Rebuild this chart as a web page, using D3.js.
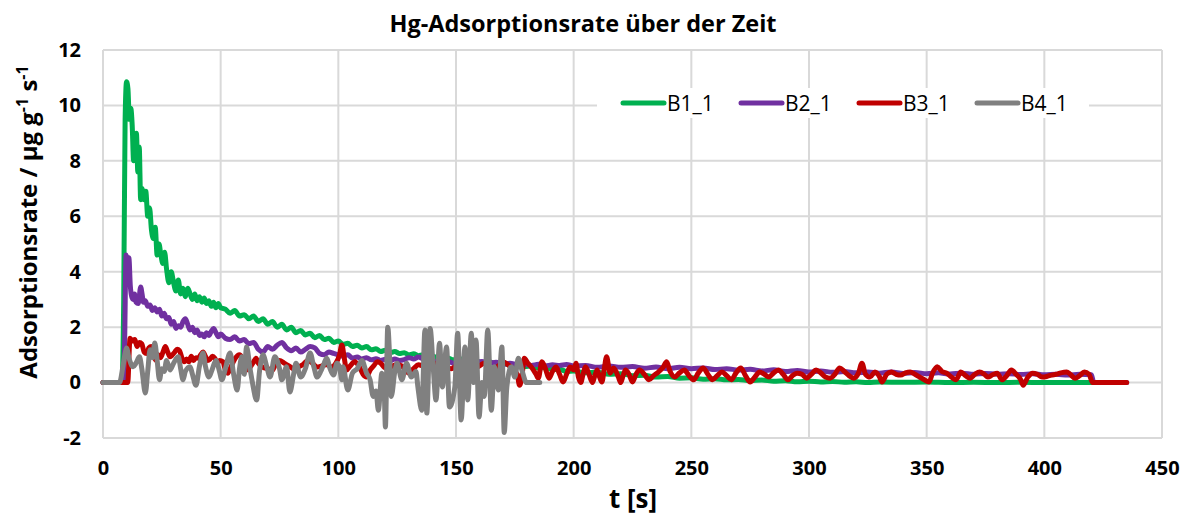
<!DOCTYPE html>
<html><head><meta charset="utf-8">
<script src="https://cdn.jsdelivr.net/npm/d3@7"></script>
<style>
html,body{margin:0;padding:0;background:#fff;}
svg text{font-family:"Open Sans",sans-serif;fill:#000;}
</style></head>
<body>
<svg id="chart" width="1193" height="516"></svg>
<script>
const title = "Hg-Adsorptionsrate über der Zeit";
const xTicks = [0,50,100,150,200,250,300,350,400,450];
const yTicks = [-2,0,2,4,6,8,10,12];
const seriesNames = ["B1_1","B2_1","B3_1","B4_1"];
const seriesColors = ["#00b050","#7030a0","#c00000","#808080"];

const b1T = [0,8,8.8,9.4,10,10.6,11.2,11.8,12.4,13,13.6,14.2,14.8,15.4,16,16.6,17.4,18.2,19,19.8,20.6,21.4,22.2,23,23.8,24.6,25.4,26.2,27,28,29,30,31,32,33,34,35,36,37,38,39,40,41,42,43,44,45,46,47,48,49,50,52,54,56,58,60,62,64,66,68,70,72,74,76,78,80,82,84,86,88,90,92,94,96,98,100,102,104,106,108,110,112,114,116,118,120,122,124,126,128,130,132,134,136,138,140,143,146,149,152,155,158,161,164,167,170,173,176,179,182,185,188,191,194,197,200,205,210,215,220,225,230,235,240,245,250,255,260,265,270,275,280,285,290,295,300,305,310,315,320,325,330,340,350,360,370,380,390,400,410,420,421,435];
const b1V = [0,0,3,9.5,10.85,10.6,9.5,9.9,9.3,8.0,8.4,9.0,7.6,8.5,6.6,7.0,6.6,6.9,6.0,6.3,5.5,5.2,5.6,4.6,5.0,4.6,4.3,4.7,4.1,3.6,4.0,3.6,3.3,3.7,3.2,3.4,3.1,3.4,3.2,3.0,3.2,2.95,3.1,2.9,3.05,2.85,2.95,2.75,2.9,2.7,2.85,2.7,2.65,2.5,2.6,2.4,2.45,2.3,2.4,2.2,2.3,2.1,2.2,2.0,2.1,1.9,2.0,1.8,1.88,1.72,1.78,1.62,1.7,1.55,1.6,1.45,1.5,1.38,1.42,1.3,1.35,1.25,1.3,1.18,1.22,1.12,1.17,1.08,1.12,1.05,1.08,1.0,1.04,0.97,1.0,0.92,0.95,0.88,0.9,0.82,0.85,0.77,0.8,0.72,0.75,0.67,0.7,0.62,0.65,0.57,0.6,0.52,0.55,0.47,0.48,0.4,0.42,0.35,0.37,0.3,0.32,0.25,0.26,0.2,0.22,0.16,0.17,0.12,0.14,0.1,0.11,0.07,0.09,0.05,0.07,0.03,0.05,0.02,0.04,0.01,0.03,0,0.02,0.01,0.02,0,0.01,0,0.01,0,0,0,0];

const b2T = [0,8.6,9.2,9.8,10.4,11,11.6,12.2,12.8,13.4,14,15,16,16.6,17.2,18,19,20,21,22,23,24,25,26,27,28,29,30,31,32,33,34,35,36,37,38,39,40,41,42,43,44,45,46,47,48,49,50,52,54,56,58,60,62,64,66,68,70,72,74,76,78,80,82,84,86,88,90,92,94,96,98,100,102,104,106,108,110,112,114,116,118,120,122,124,126,128,130,132,134,136,138,140,143,146,149,152,155,158,161,164,167,170,173,176,179,182,185,188,191,194,197,200,205,210,215,220,225,230,235,240,245,250,255,260,265,270,275,280,285,290,295,300,305,310,315,320,325,330,335,340,345,350,355,360,365,370,375,380,385,390,395,400,405,410,415,420,421,435];
const b2V = [0,0,1.5,4.6,4.4,4.5,3.5,3.1,3.0,3.2,2.9,2.85,3.45,3.2,2.9,2.95,2.75,2.8,2.6,2.7,2.55,2.65,2.4,2.5,2.3,2.35,2.1,2.2,1.95,2.05,2.0,2.2,2.3,2.1,1.9,2.0,1.8,1.9,1.7,1.75,1.65,1.8,1.7,1.85,1.95,1.8,1.65,1.75,1.6,1.55,1.65,1.5,1.55,1.4,1.45,1.2,1.1,1.3,1.2,1.35,1.45,1.25,1.15,1.25,1.1,1.2,1.3,1.25,1.05,1.0,1.1,1.05,1.0,0.95,1.0,0.88,0.92,0.85,0.9,0.82,0.86,0.8,0.84,0.78,0.85,0.8,0.83,0.9,0.85,0.92,0.85,0.8,0.78,0.72,0.78,0.7,0.75,0.68,0.72,0.76,0.7,0.73,0.66,0.7,0.65,0.68,0.62,0.66,0.6,0.64,0.62,0.65,0.6,0.62,0.55,0.6,0.55,0.58,0.52,0.56,0.5,0.55,0.5,0.53,0.47,0.5,0.45,0.48,0.42,0.46,0.4,0.44,0.38,0.42,0.37,0.4,0.35,0.38,0.34,0.38,0.33,0.36,0.32,0.35,0.31,0.34,0.3,0.33,0.3,0.32,0.29,0.32,0.28,0.3,0.27,0.3,0.28,0,0];

const b3T = [0,10.5,11.5,12.5,13.5,14.5,15.5,16.5,17.5,18.5,19.5,20.5,21.5,22.5,23.5,24.5,25.5,26.5,27.5,28.5,29.5,30.5,31.5,32.5,33.5,34.5,35.5,36.5,37.5,38.5,39.5,40.5,41.5,42.5,43.5,44.5,45.5,46.5,47.5,48.5,49.5,51,52,53,54,56,58,60,61,62,64,65,66,68,70,72,73,75,77,79,81,83,85,87,89,91,93,95,97,99,100.5,101.5,102.5,103.5,105,107,109,110.5,112,113.5,115,116.5,118,119.5,121,123,125,127,128.5,130,132,134,136,138,140,142,144,146,148,150,152,154,156,158,160,162,164,166,168,170,172,174,176,177,178,179,180.5,182,184,185,186.5,188,189.5,191,192.5,194,195.5,197,198.5,200,201,202,203,204,205,206.5,208,209,210,211,212,213,214,215.5,217,219,220,221,222,223.5,225,226.5,228,230,232,234,236,238,239.5,241,243,245,247,249,251,253,255,257,259,261,263,265,267,269,271,273,275,277,279,281,283,285,287,289,291,293,295,297,299,301,303,305,307,309,311,313,315,317,319,321,322.5,324,326,328,330,331,333,335,337,339,341,343,345,347,349,351,352.5,354.5,356.5,358.5,360.5,362.5,364.5,366.5,368.5,370.5,372.5,374.5,376,378,380,382,384,386,388,390,391,393,395,397,399,401,403,405,407,409.5,411,413,415,417,419,420.5,435];
const b3V = [0,0,1.6,1.5,1.55,1.3,1.45,1.4,1.1,1.05,1.25,1.3,1.0,0.8,1.0,0.9,1.1,1.3,1.1,0.93,1.0,1.1,1.2,1.15,0.9,0.75,0.85,0.75,0.95,0.8,0.9,0.88,1.0,1.1,0.95,0.8,0.85,0.95,0.88,0.7,0.8,0.75,0.45,0.34,0.5,0.85,1.0,0.7,0.45,0.5,0.75,0.88,0.7,0.55,0.5,0.45,0.6,0.8,0.7,0.6,0.5,0.56,0.65,0.8,0.7,0.56,0.6,0.65,0.56,0.7,1.0,1.36,0.9,0.45,0.6,0.75,0.55,0.3,0.2,0.45,0.6,0.75,0.7,0.55,0.5,0.6,0.64,0.6,0.45,0.34,0.5,0.64,0.6,0.56,0.6,0.7,0.65,0.55,0.5,0.6,0.7,0.55,0.4,0.5,0.6,0.7,0.55,0.45,0.6,0.75,0.65,0.5,0.3,-0.1,0.2,0.88,0.7,0.56,0.3,0.16,0.75,0.5,0.16,0.4,0.56,0.3,0.02,0.3,0.56,0.45,0.7,0.2,0.0,0.3,0.57,0.3,0.0,0.25,0.45,0.2,0.02,0.5,0.93,0.34,0.53,0.2,0.0,0.25,0.45,0.3,0.02,0.3,0.45,0.3,0.1,0.25,0.38,0.55,0.75,0.4,0.2,0.35,0.45,0.25,0.1,0.35,0.53,0.3,0.1,0.25,0.38,0.25,0.1,0.35,0.53,0.25,0.02,0.2,0.38,0.3,0.2,0.35,0.45,0.3,0.1,0.25,0.34,0.3,0.16,0.3,0.45,0.35,0.2,0.16,0.3,0.53,0.4,0.25,0.16,0.34,0.7,0.3,0.2,0.38,0.2,0.02,0.3,0.38,0.3,0.27,0.35,0.38,0.3,0.2,0.1,0.02,0.34,0.57,0.4,0.34,0.2,0.1,0.38,0.25,0.16,0.3,0.38,0.3,0.2,0.28,0.34,0.1,0.25,0.45,0.3,0.1,-0.1,0.2,0.34,0.3,0.2,0.22,0.27,0.3,0.35,0.38,0.3,0.16,0.25,0.38,0.3,0.0,0.0];

const b4T = [0,7,8.5,9.5,10,11,12.8,14,15.5,16.5,18,19,20,21,22,23,24,25,26,27,28.5,30,32,33,34,35,37,38,39.5,41,42.5,43.5,45,46.5,48,49.5,50.5,52,54,55.5,57,58,59,60,61,62.5,63.5,65.3,66.5,68,69.5,71,73,75,76,78,79.4,81,82,84,86,88,89.5,91,92.5,94,95,96.5,98,99.4,100.5,101.5,102,104,106,108,110,112,113.5,114.8,116,117,118.5,119.5,120,121,122,122.5,124,125,127,129,131,133,133.8,135.5,136.8,137.6,139,140.3,141.5,143,144.2,146,147.2,149.5,150.7,152.2,153.8,155,156.5,157.5,158.5,159.8,161,162,163.5,165,166.3,168,169.5,170.5,171.6,173.5,175,176.5,178,180,185.6];
const b4V = [0,0,0.6,1.1,1.25,0.9,0.57,0.7,0.93,0.5,-0.38,0.4,1.18,0.9,1.43,0.8,0.1,0.5,0.4,0.8,0.45,0.7,0.93,0.5,0.1,0.4,0.57,0.3,-0.1,0.6,1.07,0.6,0.2,0.5,0.8,0.4,0.1,0.5,1.07,0.3,-0.27,0.5,0.93,0.3,1.28,0.5,0.0,-0.63,0.4,1.0,0.6,0.2,0.93,0.5,0.1,0.57,-0.34,0.3,0.7,0.2,0.5,1.07,0.6,0.2,0.4,0.7,0.88,0.5,0.27,0.7,0.56,0.1,0.57,-0.27,0.34,0.5,0.8,0.34,0.1,-0.5,-0.3,-1.0,0.34,-0.3,-1.6,2.0,0.5,-0.5,0.4,0.7,0.1,0.7,0.2,0.4,-0.16,-1.0,1.9,-1.1,1.95,0.57,-0.63,1.42,-0.16,1.28,-0.88,-0.16,1.78,-1.35,1.28,-0.63,1.78,0.0,1.54,-1.24,0.0,-0.5,1.9,-1.0,0.57,-0.27,1.28,-1.8,-0.16,0.57,0.2,0.88,0.45,0.0,0.0];

const svg = d3.select("#chart");
const x = d3.scaleLinear().domain([0,450]).range([103,1162]);
const y = d3.scaleLinear().domain([-2,12]).range([438,50]);

const grid = svg.append("g");
grid.selectAll("line.h").data(yTicks).join("line")
  .attr("x1",x(0)).attr("x2",x(450)).attr("y1",d=>y(d)).attr("y2",d=>y(d))
  .attr("stroke","#d9d9d9").attr("stroke-width",2);
grid.selectAll("line.v").data(xTicks).join("line")
  .attr("y1",y(-2)).attr("y2",y(12)).attr("x1",d=>x(d)).attr("x2",d=>x(d))
  .attr("stroke","#d9d9d9").attr("stroke-width",2);

const fmt = d => String(d);
const xAxis = d3.axisBottom(x).tickValues(xTicks).tickFormat(fmt).tickSize(0).tickPadding(23);
const gx = svg.append("g").attr("transform",`translate(0,${y(-2)})`).call(xAxis);
gx.select(".domain").remove();
gx.selectAll("text").attr("font-size",20).attr("font-weight","bold").attr("font-family","Open Sans").attr("fill","#000");
const yAxis = d3.axisLeft(y).tickValues(yTicks).tickFormat(fmt).tickSize(0).tickPadding(22);
const gy = svg.append("g").attr("transform",`translate(${x(0)},0)`).call(yAxis);
gy.select(".domain").remove();
gy.selectAll("text").attr("font-size",20).attr("font-weight","bold").attr("font-family","Open Sans").attr("fill","#000");

const series = [[b1T,b1V],[b2T,b2V],[b3T,b3V],[b4T,b4V]];
const line = d3.line().x(d=>x(d[0])).y(d=>y(d[1])).curve(d3.curveMonotoneX);
series.forEach((s,i)=>{
  const pts = s[0].map((t,j)=>[t,s[1][j]]);
  svg.append("path").datum(pts).attr("d",line).attr("fill","none")
    .attr("stroke",seriesColors[i]).attr("stroke-width",5)
    .attr("stroke-linejoin","round").attr("stroke-linecap","round");
});

const leg = svg.append("g");
leg.append("rect").attr("x",597).attr("y",88).attr("width",492).attr("height",30).attr("fill","#fff");
const legX = [623,741,859,977];
seriesNames.forEach((n,i)=>{
  leg.append("line").attr("x1",legX[i]).attr("x2",legX[i]+41).attr("y1",103).attr("y2",103)
    .attr("stroke",seriesColors[i]).attr("stroke-width",5).attr("stroke-linecap","round");
  leg.append("text").attr("x",legX[i]+44).attr("y",111).attr("font-size",21).text(n);
});

svg.append("text").attr("x",583).attr("y",32).attr("text-anchor","middle")
  .attr("font-size",23.5).attr("font-weight","bold").text(title);
svg.append("text").attr("x",633).attr("y",508).attr("text-anchor","middle")
  .attr("font-size",26).attr("font-weight","bold").text("t [s]");
const yt = svg.append("text").attr("transform","translate(37,222) rotate(-90)")
  .attr("text-anchor","middle").attr("font-size",24).attr("font-weight","bold");
yt.append("tspan").text("Adsorptionsrate / µg g");
yt.append("tspan").attr("dy",-9).attr("font-size",16).text("-1");
yt.append("tspan").attr("dy",9).text(" s");
yt.append("tspan").attr("dy",-9).attr("font-size",16).text("-1");
</script>
</body></html>
